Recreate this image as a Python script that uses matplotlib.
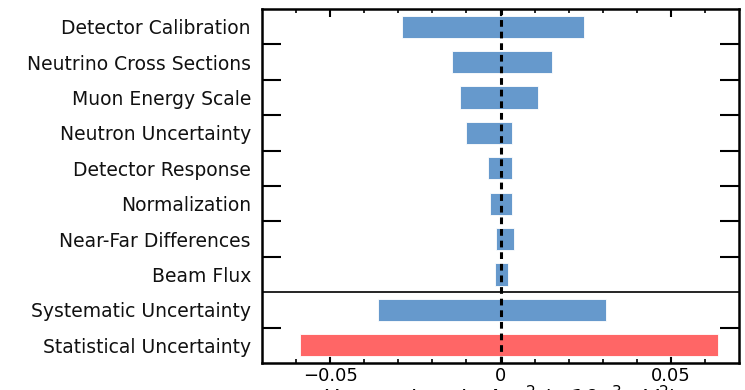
import matplotlib.pyplot as plt
import numpy as np

# rows from top to bottom
categories = ['Detector Calibration', 'Neutrino Cross Sections', 'Muon Energy Scale',
              'Neutron Uncertainty', 'Detector Response', 'Normalization',
              'Near-Far Differences', 'Beam Flux', 'Systematic Uncertainty',
              'Statistical Uncertainty']
low = [-0.0288, -0.0142, -0.0119, -0.0101, -0.0037, -0.0031, -0.0013, -0.0015, -0.0359, -0.0588]
high = [0.0244, 0.0151, 0.0109, 0.0034, 0.0034, 0.0034, 0.0039, 0.0021, 0.0310, 0.0638]
colors = ['#6699cc'] * 9 + ['#ff6666']
xticks = [-0.05, 0, 0.05]
xticklabels = ['\u22120.05', '0', '0.05']

plt.rcParams['font.family'] = ['DejaVu Sans']

fig = plt.figure(figsize=(7.45, 3.9), dpi=100)
ax = fig.add_axes([0.3517, 0.0692, 0.6403, 0.9078])

y = np.arange(len(categories))
low = np.array(low)
high = np.array(high)
ax.barh(y, high - low, left=low, height=0.63, color=colors,
        edgecolor='white', linewidth=0.6, zorder=2)

ax.axvline(0, color='black', linestyle=(0, (2.2, 1.6)), linewidth=2.2, zorder=3)
ax.axhline(7.5, color='black', linewidth=1.2, zorder=3)

ax.set_xlim(-0.07, 0.07)
ax.set_ylim(len(categories) - 0.5, -0.5)

ax.set_yticks(y)
ax.set_yticklabels(categories, fontsize=13.5, color='#111111')
ax.set_yticks([0.5, 1.5, 2.5, 3.5, 4.5, 5.5, 6.5, 8.5], minor=True)
ax.tick_params(axis='y', which='major', length=0, pad=8)
ax.tick_params(axis='y', which='minor', length=14, width=1.5, direction='in',
               left=True, right=True)

ax.set_xticks(xticks)
ax.set_xticklabels(xticklabels, fontsize=13)
ax.set_xticks(np.arange(-0.06, 0.0601, 0.01), minor=True)
ax.tick_params(axis='x', which='major', length=6, width=1.5, direction='in',
               top=True, bottom=True, pad=3)
ax.tick_params(axis='x', which='minor', length=3, width=1.2, direction='in',
               top=True, bottom=True)

for s in ax.spines.values():
    s.set_linewidth(1.8)

ax.set_xlabel('Uncertainty in $\\Delta m^2$ ($\\times10^{-3}$ eV$^2$)', fontsize=16, labelpad=-1)

fig.savefig('out.png', dpi=100)
